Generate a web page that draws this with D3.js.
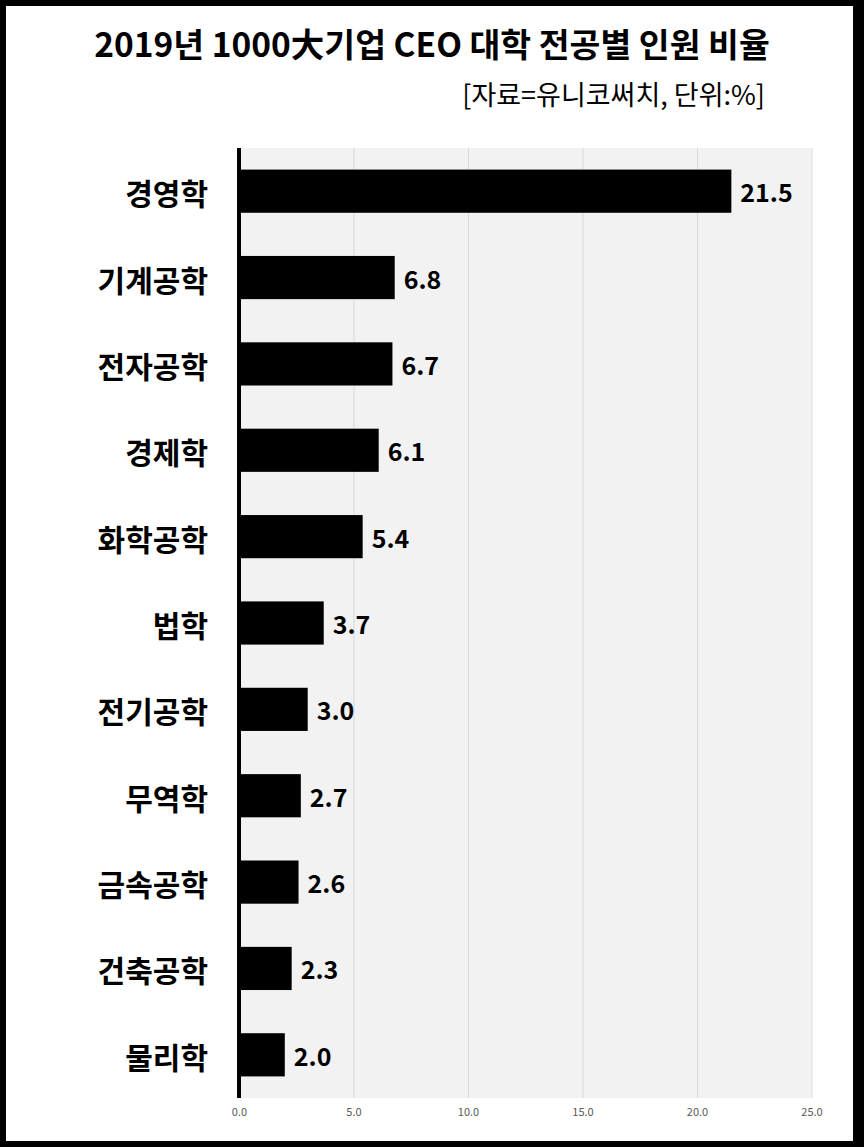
<!DOCTYPE html>
<html><head><meta charset="utf-8">
<script src="https://cdn.jsdelivr.net/npm/d3@7"></script>
<style>html,body{margin:0;padding:0;background:#fff;}svg{display:block;}</style>
</head><body>
<svg id="chart" width="864" height="1147"></svg>
<script>
const categories = ["경영학","기계공학","전자공학","경제학","화학공학","법학","전기공학","무역학","금속공학","건축공학","물리학"];
const values = [21.5, 6.8, 6.7, 6.1, 5.4, 3.7, 3.0, 2.7, 2.6, 2.3, 2.0];
const tickValues = [0, 5, 10, 15, 20, 25];
const titleText = "2019년 1000大기업 CEO 대학 전공별 인원 비율";
const subtitleText = "[자료=유니코써치, 단위:%]";

const FONT = "'Noto Sans CJK KR','Noto Sans',sans-serif";
const svg = d3.select("#chart");
// border
svg.append("rect").attr("x",0).attr("y",0).attr("width",864).attr("height",1147).attr("fill","#000");
svg.append("rect").attr("x",6).attr("y",6).attr("width",847).attr("height",1135).attr("fill","#fff");

const x = d3.scaleLinear().domain([0,25]).range([239, 811.5]);
const y = d3.scaleBand().domain(categories).range([148, 1098]).paddingInner(0.5).paddingOuter(0.25);

// plot bg
svg.append("rect").attr("x", x(0)).attr("y", 148).attr("width", x(25)-x(0)).attr("height", 1098-148).attr("fill","#f2f2f2");

// gridlines
svg.append("g").selectAll("line").data(tickValues.filter(d=>d>0)).join("line")
  .attr("x1", d=>x(d)+0.5).attr("x2", d=>x(d)+0.5).attr("y1",148).attr("y2",1098)
  .attr("stroke","#d9d9d9").attr("stroke-width",1);

// bars
svg.append("g").selectAll("rect").data(values).join("rect")
  .attr("x", x(0)).attr("y", (d,i)=>y(categories[i]))
  .attr("width", d=>x(d)-x(0)).attr("height", y.bandwidth()).attr("fill","#000");

// axis line
svg.append("line").attr("x1", x(0)).attr("x2", x(0)).attr("y1",148).attr("y2",1098)
  .attr("stroke","#000").attr("stroke-width",4);

// tick labels
const xAxis = d3.axisBottom(x).tickValues(tickValues).tickFormat(d3.format(".1f")).tickSize(0).tickPadding(0);
const ax = svg.append("g").attr("transform","translate(0,1106)").call(xAxis);
ax.select(".domain").remove();
ax.selectAll("text").attr("font-family", FONT).attr("font-size", 11).attr("fill","#595959").attr("dy","0.9em");

// category labels
svg.append("g").selectAll("text").data(categories).join("text")
  .attr("x", 208).attr("y", d=>y(d)+y.bandwidth()/2 + 1)
  .attr("text-anchor","end").attr("dominant-baseline","central")
  .attr("font-family", FONT).attr("font-weight","bold").attr("font-size",30).attr("fill","#000")
  .text(d=>d);

// value labels
svg.append("g").selectAll("text").data(values).join("text")
  .attr("x", d=>x(d)+9).attr("y", (d,i)=>y(categories[i])+y.bandwidth()/2)
  .attr("dominant-baseline","central")
  .attr("font-family", FONT).attr("font-weight","bold").attr("font-size",25).attr("fill","#000")
  .text(d=>d.toFixed(1));

// title
svg.append("text").attr("x", 432).attr("y", 57).attr("text-anchor","middle")
  .attr("font-family", FONT).attr("font-weight","bold").attr("font-size",33.5).attr("fill","#000")
  .text(titleText);
svg.append("text").attr("x", 765).attr("y", 105).attr("text-anchor","end")
  .attr("font-family", FONT).attr("font-size",27).attr("fill","#000")
  .text(subtitleText);
</script>
</body></html>
